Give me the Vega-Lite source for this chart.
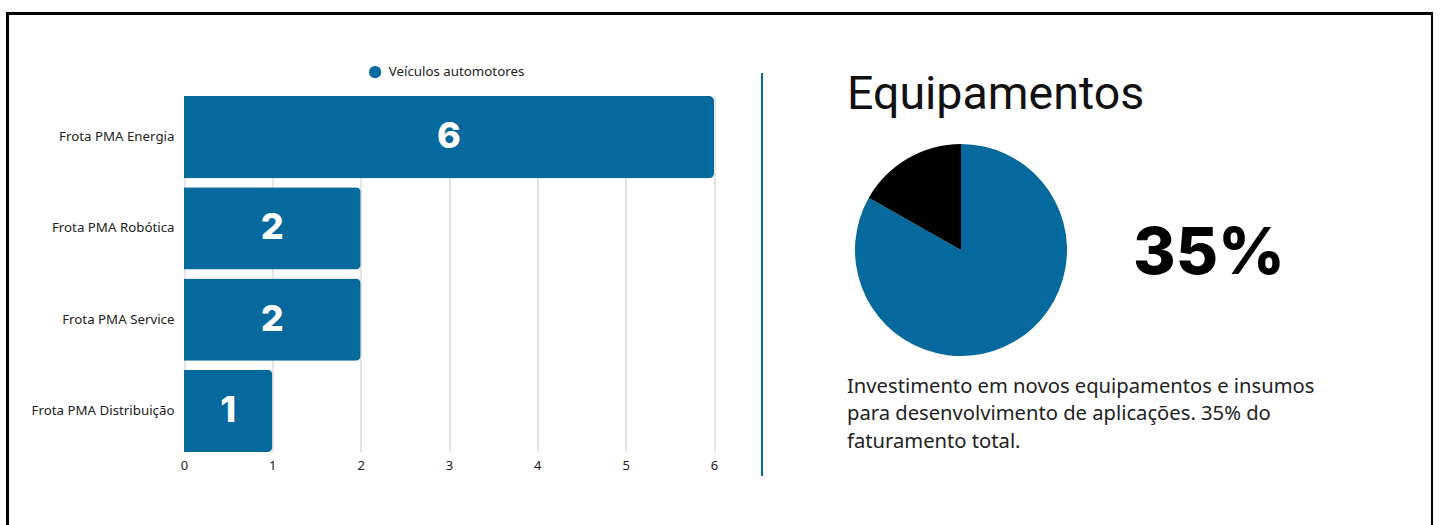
{
  "$schema": "https://vega.github.io/schema/vega-lite/v6.json",
  "autosize": {"type": "none"},
  "padding": {"left": 7.5, "top": 13.5, "right": 0, "bottom": 0},
  "width": 1425,
  "height": 600,
  "background": "white",
  "config": {
    "view": {"stroke": "#000000", "strokeWidth": 3},
    "font": "Noto Sans",
    "axis": {"labelFont": "Noto Sans", "labelColor": "#222222", "labelFontSize": 13.3, "titleFont": "Noto Sans"},
    "legend": {"labelFont": "Noto Sans"}
  },
  "datasets": {
    "frota": [
      {"frota": "Frota PMA Energia", "veiculos": 6, "serie": "Veículos automotores"},
      {"frota": "Frota PMA Robótica", "veiculos": 2, "serie": "Veículos automotores"},
      {"frota": "Frota PMA Service", "veiculos": 2, "serie": "Veículos automotores"},
      {"frota": "Frota PMA Distribuição", "veiculos": 1, "serie": "Veículos automotores"}
    ],
    "pizza": [
      {"categoria": "Equipamentos", "parte": 83.2},
      {"categoria": "Outros", "parte": 16.8}
    ]
  },
  "layer": [
    {
      "data": {"name": "frota"},
      "resolve": {"scale": {"x": "independent"}, "axis": {"x": "independent"}},
      "layer": [
        {
          "mark": {"type": "bar", "cornerRadiusEnd": 5},
          "encoding": {
            "y": {
              "field": "frota", "type": "nominal",
              "sort": ["Frota PMA Energia", "Frota PMA Robótica", "Frota PMA Service", "Frota PMA Distribuição"],
              "scale": {"range": [82.5, 438.5], "paddingInner": 0.1, "paddingOuter": 0},
              "axis": {"title": null, "orient": "left", "offset": -176.5, "labelPadding": 10, "ticks": false, "domain": false, "grid": false}
            },
            "x": {
              "field": "veiculos", "type": "quantitative",
              "scale": {"domain": [0, 6], "range": [176.5, 706.5], "nice": false},
              "axis": {"title": null, "orient": "top", "offset": 0, "values": [0, 1, 2, 3, 4, 5, 6], "grid": true, "gridColor": "#cccccc", "gridWidth": 1, "ticks": false, "domain": false, "labels": false}
            },
            "color": {
              "field": "serie", "type": "nominal",
              "scale": {"range": ["#05699D"]},
              "legend": {"orient": "none", "legendX": 361, "legendY": 52, "title": null, "padding": 0, "symbolType": "circle", "symbolSize": 150, "symbolStrokeWidth": 0, "labelFontSize": 13.3, "labelColor": "#222222", "labelOffset": 7}
            }
          }
        },
        {
          "mark": {"type": "text", "color": "white", "font": "Inter", "fontWeight": 800, "fontSize": 36, "align": "center", "baseline": "middle"},
          "encoding": {
            "y": {"field": "frota", "type": "nominal", "sort": ["Frota PMA Energia", "Frota PMA Robótica", "Frota PMA Service", "Frota PMA Distribuição"]},
            "x": {
              "field": "veiculos", "type": "quantitative",
              "scale": {"domain": [0, 12], "range": [176.5, 706.5], "nice": false},
              "axis": {"title": null, "orient": "bottom", "offset": -161.5, "values": [0, 2, 4, 6, 8, 10, 12], "labelExpr": "datum.value / 2", "labelFlush": false, "grid": false, "ticks": false, "domain": false, "labelPadding": 7, "labelFontSize": 13}
            },
            "text": {"field": "veiculos", "type": "quantitative"}
          }
        }
      ]
    },
    {
      "data": {"name": "pizza"},
      "mark": {"type": "arc", "outerRadius": 106},
      "encoding": {
        "x": {"value": 953.5},
        "y": {"value": 236.5},
        "theta": {"field": "parte", "type": "quantitative"},
        "color": {"field": "categoria", "type": "nominal", "scale": {"domain": ["Equipamentos", "Outros"], "range": ["#05699D", "#000000"]}, "legend": null}
      }
    },
    {
      "data": {"values": [{}]},
      "mark": {"type": "rule", "color": "#05699D", "strokeWidth": 2},
      "encoding": {"x": {"value": 754.5}, "y": {"value": 59.5}, "y2": {"value": 462.5}}
    },
    {
      "data": {"values": [{}]},
      "mark": {"type": "text", "text": "Equipamentos", "font": "Roboto", "fontSize": 46.5, "color": "#111111", "align": "left", "baseline": "alphabetic"},
      "encoding": {"x": {"value": 839.5}, "y": {"value": 95.5}}
    },
    {
      "data": {"values": [{}]},
      "mark": {"type": "text", "text": "35%", "font": "Inter", "fontWeight": 800, "fontSize": 65, "color": "#000000", "align": "center", "baseline": "alphabetic"},
      "encoding": {"x": {"value": 1201.5}, "y": {"value": 260.5}}
    },
    {
      "data": {"values": [{}]},
      "mark": {"type": "text", "text": ["Investimento em novos equipamentos e insumos", "para desenvolvimento de aplicações. 35% do", "faturamento total."], "font": "Noto Sans", "fontSize": 20.2, "lineHeight": 27.5, "color": "#222222", "align": "left", "baseline": "alphabetic"},
      "encoding": {"x": {"value": 839.5}, "y": {"value": 379}}
    }
  ],
  "resolve": {
    "scale": {"x": "independent", "y": "independent", "color": "independent"},
    "axis": {"x": "independent", "y": "independent"},
    "legend": {"color": "independent"}
  }
}
